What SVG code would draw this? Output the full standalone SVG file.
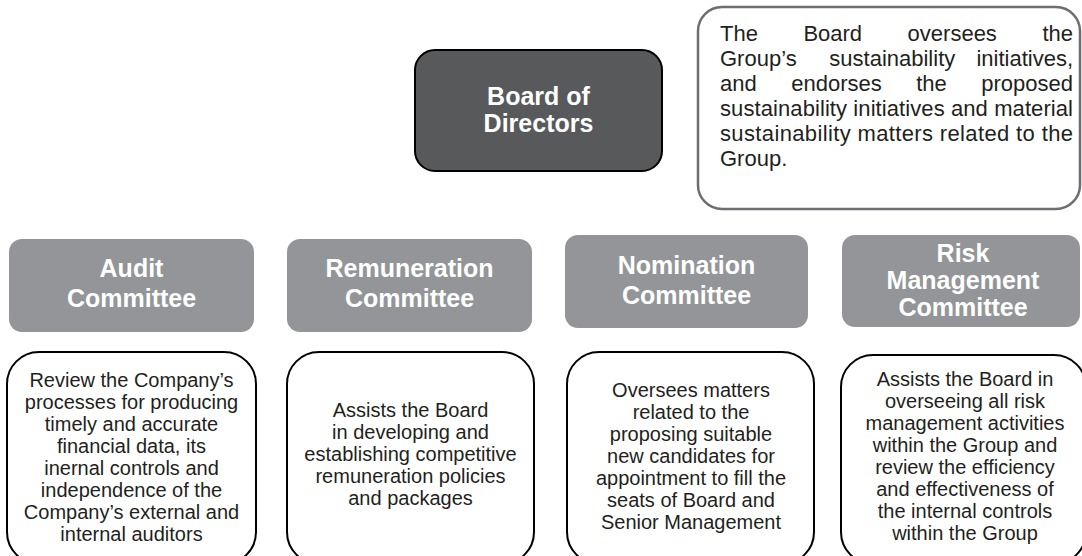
<svg xmlns="http://www.w3.org/2000/svg" width="1082" height="556" viewBox="0 0 1082 556">
  <style>
    .board { fill: #58595b; stroke: #000; stroke-width: 2; }
    .committee { fill: #939598; }
    .note { fill: #fff; stroke: #6d6e71; stroke-width: 2.5; }
    .desc { fill: #fff; stroke: #000; stroke-width: 2; }
    .head { font-family: "Liberation Sans", Arial, sans-serif; font-weight: bold; font-size: 25px; fill: #fff; text-anchor: middle; }
    .body { font-family: "Liberation Sans", Arial, sans-serif; font-size: 20px; fill: #231f20; text-anchor: middle; }
    .just { font-family: "Liberation Sans", Arial, sans-serif; font-size: 22px; fill: #231f20; }
  </style>

  <rect width="1082" height="556" fill="#fff"/>

  <!-- no connectors are drawn between the boxes -->
  <g id="connectors"/>

  <g id="board">
    <rect class="board" x="415" y="50" width="247" height="121" rx="20"/>
    <text class="head" x="538.5" y="105">Board of</text>
    <text class="head" x="538.5" y="132">Directors</text>
  </g>

  <g id="board-note">
    <rect class="note" x="698" y="7" width="382" height="202" rx="24"/>
    <text class="just" y="41"><tspan x="720">The</tspan><tspan x="803.4">Board</tspan><tspan x="907.6">oversees</tspan></text>
    <text class="just" x="1073" y="41" text-anchor="end">the</text>
    <text class="just" y="66"><tspan x="720">Group’s</tspan><tspan x="829.3">sustainability</tspan></text>
    <text class="just" x="1073" y="66" text-anchor="end">initiatives,</text>
    <text class="just" y="91"><tspan x="720">and</tspan><tspan x="791.2">endorses</tspan><tspan x="916.2">the</tspan></text>
    <text class="just" x="1073" y="91" text-anchor="end">proposed</text>
    <text class="just" x="720" y="116" textLength="353" lengthAdjust="spacing">sustainability initiatives and material</text>
    <text class="just" x="720" y="141" textLength="353" lengthAdjust="spacing">sustainability matters related to the</text>
    <text class="just" x="720" y="166">Group.</text>
  </g>

  <g id="audit-committee">
    <rect class="committee" x="9" y="239" width="245" height="93" rx="13"/>
    <text class="head" x="131.5" y="277">Audit</text>
    <text class="head" x="131.5" y="307">Committee</text>
  </g>

  <g id="remuneration-committee">
    <rect class="committee" x="287" y="239" width="245" height="93" rx="13"/>
    <text class="head" x="409.5" y="277">Remuneration</text>
    <text class="head" x="409.5" y="307">Committee</text>
  </g>

  <g id="nomination-committee">
    <rect class="committee" x="565" y="235" width="243" height="93" rx="13"/>
    <text class="head" x="686.5" y="274">Nomination</text>
    <text class="head" x="686.5" y="304">Committee</text>
  </g>

  <g id="risk-committee">
    <rect class="committee" x="842" y="235" width="238" height="92" rx="13"/>
    <text class="head" x="963" y="262">Risk</text>
    <text class="head" x="963" y="289">Management</text>
    <text class="head" x="963" y="316">Committee</text>
  </g>

  <g id="audit-role">
    <rect class="desc" x="7" y="352" width="249" height="212" rx="32"/>
    <text class="body" x="131.5" y="387">Review the Company’s</text>
    <text class="body" x="131.5" y="409">processes for producing</text>
    <text class="body" x="131.5" y="431">timely and accurate</text>
    <text class="body" x="131.5" y="453">financial data, its</text>
    <text class="body" x="131.5" y="475">inernal controls and</text>
    <text class="body" x="131.5" y="497">independence of the</text>
    <text class="body" x="131.5" y="519">Company’s external and</text>
    <text class="body" x="131.5" y="541">internal auditors</text>
  </g>

  <g id="remuneration-role">
    <rect class="desc" x="287" y="352" width="247" height="212" rx="32"/>
    <text class="body" x="410.5" y="417">Assists the Board</text>
    <text class="body" x="410.5" y="439">in developing and</text>
    <text class="body" x="410.5" y="461">establishing competitive</text>
    <text class="body" x="410.5" y="483">remuneration policies</text>
    <text class="body" x="410.5" y="505">and packages</text>
  </g>

  <g id="nomination-role">
    <rect class="desc" x="567" y="352" width="247" height="212" rx="32"/>
    <text class="body" x="691" y="397">Oversees matters</text>
    <text class="body" x="691" y="419">related to the</text>
    <text class="body" x="691" y="441">proposing suitable</text>
    <text class="body" x="691" y="463">new candidates for</text>
    <text class="body" x="691" y="485">appointment to fill the</text>
    <text class="body" x="691" y="507">seats of Board and</text>
    <text class="body" x="691" y="529">Senior Management</text>
  </g>

  <g id="risk-role">
    <rect class="desc" x="841" y="355" width="245" height="209" rx="32"/>
    <text class="body" x="965" y="386">Assists the Board in</text>
    <text class="body" x="965" y="408">overseeing all risk</text>
    <text class="body" x="965" y="430">management activities</text>
    <text class="body" x="965" y="452">within the Group and</text>
    <text class="body" x="965" y="474">review the efficiency</text>
    <text class="body" x="965" y="496">and effectiveness of</text>
    <text class="body" x="965" y="518">the internal controls</text>
    <text class="body" x="965" y="540">within the Group</text>
  </g>
</svg>
